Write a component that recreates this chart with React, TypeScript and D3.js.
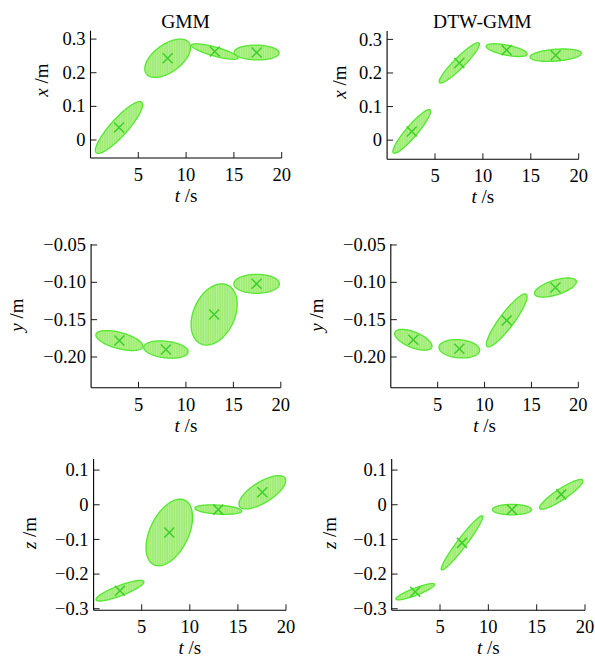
import * as d3 from "d3";
import { useEffect, useRef } from "react";

// each component: [t centre, value centre, half-width in t, half-height in value, correlation]
const gmmX = [
  [2.98, 0.037, 2.47, 0.077, 0.88],
  [8.07, 0.243, 2.39, 0.057, 0.55],
  [13.0, 0.263, 2.44, 0.023, -0.8],
  [17.38, 0.26, 2.35, 0.022, -0.05],
];
const dtwX = [
  [2.57, 0.026, 1.97, 0.065, 0.92],
  [7.54, 0.23, 2.1, 0.06, 0.93],
  [12.48, 0.268, 2.14, 0.019, -0.6],
  [17.6, 0.253, 2.68, 0.0185, 0.3],
];
const gmmY = [
  [2.98, -0.178, 2.47, 0.0134, -0.55],
  [7.89, -0.19, 2.34, 0.0116, -0.25],
  [12.97, -0.143, 2.43, 0.041, 0.33],
  [17.45, -0.102, 2.4, 0.0127, 0],
];
const dtwY = [
  [2.4, -0.177, 1.99, 0.0139, -0.6],
  [7.31, -0.189, 2.17, 0.0123, -0.15],
  [12.37, -0.151, 2.17, 0.0354, 0.9],
  [17.56, -0.107, 2.24, 0.0128, 0.6],
];
const gmmZ = [
  [2.74, -0.248, 2.49, 0.0297, 0.85],
  [7.87, -0.08, 2.42, 0.096, 0.46],
  [12.96, -0.014, 2.43, 0.0136, -0.3],
  [17.54, 0.036, 2.43, 0.048, 0.7],
];
const dtwZ = [
  [2.44, -0.251, 2.0, 0.0236, 0.88],
  [7.27, -0.11, 2.14, 0.078, 0.96],
  [12.44, -0.014, 2.02, 0.015, 0],
  [17.54, 0.03, 2.24, 0.043, 0.9],
];

const timeTicks = [5, 10, 15, 20];
const xTicks = [0, 0.1, 0.2, 0.3];
const xTickLabels = ["0", "0.1", "0.2", "0.3"];
const yTicks = [-0.05, -0.1, -0.15, -0.2];
const yTickLabels = ["\u22120.05", "\u22120.10", "\u22120.15", "\u22120.20"];
const zTicks = [0.1, 0, -0.1, -0.2, -0.3];
const zTickLabels = ["0.1", "0", "\u22120.1", "\u22120.2", "\u22120.3"];
const titles = ["GMM", "DTW-GMM"];

const W = 595;
const H = 662;
const FONT = "'Liberation Serif', 'DejaVu Serif', serif";
const STROKE = "#52e82e";
const MARK = "#3cd028";

// pixel boxes of each panel: [left, right, top, bottom], value domain
const panels = [
  { data: gmmX, box: [90.5, 281.7, 30.7, 158], dom: [-0.0536, 0.325], ticks: xTicks, labels: xTickLabels, v: "x", labX: 42, labY: 80, title: titles[0] },
  { data: dtwX, box: [387.1, 578.7, 31, 159.3], dom: [-0.057, 0.325], ticks: xTicks, labels: xTickLabels, v: "x", labX: 340, labY: 82, title: titles[1] },
  { data: gmmY, box: [91.1, 280.8, 244, 387.7], dom: [-0.2411, -0.0487], ticks: yTicks, labels: yTickLabels, v: "y", labX: 17, labY: 315 },
  { data: dtwY, box: [390.8, 578.3, 244, 387.7], dom: [-0.2411, -0.0487], ticks: yTicks, labels: yTickLabels, v: "y", labX: 317, labY: 315 },
  { data: gmmZ, box: [93.6, 286, 459, 610.3], dom: [-0.3045, 0.132], ticks: zTicks, labels: zTickLabels, v: "z", labX: 30, labY: 533 },
  { data: dtwZ, box: [391.7, 585, 459, 610.3], dom: [-0.3045, 0.132], ticks: zTicks, labels: zTickLabels, v: "z", labX: 330, labY: 533 },
];

const App = () => {
  const ref = useRef<SVGSVGElement>(null);

  useEffect(() => {
    const svg = d3.select(ref.current);
    svg.selectAll("*").remove();

    // light vertical hatching inside the ellipses
    const pat = svg.append("defs").append("pattern")
      .attr("id", "hatch")
      .attr("patternUnits", "userSpaceOnUse")
      .attr("width", 2.4)
      .attr("height", 10);
    pat.append("rect").attr("width", 2.4).attr("height", 10).attr("fill", "#9eec70");
    pat.append("line")
      .attr("x1", 0.6).attr("x2", 0.6).attr("y1", 0).attr("y2", 10)
      .attr("stroke", "#bdf3a0").attr("stroke-width", 0.8);

    const angles = d3.range(0, 2 * Math.PI, Math.PI / 60);

    panels.forEach(p => {
      const [l, r, t, b] = p.box;
      const x = d3.scaleLinear().domain([0, 20]).range([l, r]);
      const y = d3.scaleLinear().domain(p.dom).range([b, t]);
      const g = svg.append("g");

      // ellipses
      const line = d3.line<number[]>().x(d => x(d[0])).y(d => y(d[1])).curve(d3.curveLinearClosed);
      p.data.forEach(([ct, cv, dt, dv, rho]) => {
        const pts = angles.map(a => [
          ct + dt * Math.cos(a),
          cv + dv * (rho * Math.cos(a) + Math.sqrt(1 - rho * rho) * Math.sin(a)),
        ]);
        g.append("path")
          .attr("d", line(pts))
          .attr("fill", "url(#hatch)")
          .attr("stroke", STROKE)
          .attr("stroke-width", 1.3);
      });

      // centre markers
      p.data.forEach(([ct, cv]) => {
        const cx = x(ct), cy = y(cv), s = 5;
        g.append("path")
          .attr("d", `M${cx - s},${cy - s}L${cx + s},${cy + s}M${cx - s},${cy + s}L${cx + s},${cy - s}`)
          .attr("stroke", MARK)
          .attr("stroke-width", 1.5);
      });

      // axes
      g.append("line").attr("x1", l).attr("x2", r).attr("y1", b).attr("y2", b)
        .attr("stroke", "#000").attr("stroke-width", 1.1);
      g.append("line").attr("x1", l).attr("x2", l).attr("y1", t).attr("y2", b)
        .attr("stroke", "#000").attr("stroke-width", 1.1);

      timeTicks.forEach(tk => {
        g.append("line").attr("x1", x(tk)).attr("x2", x(tk)).attr("y1", b).attr("y2", b - 6)
          .attr("stroke", "#000").attr("stroke-width", 0.9);
        g.append("text").attr("x", x(tk)).attr("y", b + 23)
          .attr("text-anchor", "middle").attr("font-family", FONT).attr("font-size", 18.5)
          .text(tk);
      });

      p.ticks.forEach((tk, i) => {
        g.append("line").attr("x1", l).attr("x2", l + 6).attr("y1", y(tk)).attr("y2", y(tk))
          .attr("stroke", "#000").attr("stroke-width", 0.9);
        g.append("text").attr("x", l - 5).attr("y", y(tk)).attr("dy", "0.33em")
          .attr("text-anchor", "end").attr("font-family", FONT).attr("font-size", 18.5)
          .text(p.labels[i]);
      });

      // axis labels
      const xl = g.append("text").attr("x", (l + r) / 2).attr("y", b + 44)
        .attr("text-anchor", "middle").attr("font-family", FONT).attr("font-size", 19);
      xl.append("tspan").attr("font-style", "italic").text("t");
      xl.append("tspan").text(" /s");

      const yl = g.append("text")
        .attr("transform", `translate(${p.labX},${p.labY}) rotate(-90)`)
        .attr("text-anchor", "middle").attr("dy", "0.33em")
        .attr("font-family", FONT).attr("font-size", 19);
      yl.append("tspan").attr("font-style", "italic").text(p.v);
      yl.append("tspan").text(" /m");

      if (p.title) {
        g.append("text").attr("x", (l + r) / 2 - 0.5).attr("y", 28)
          .attr("text-anchor", "middle").attr("font-family", FONT).attr("font-size", 19.5)
          .text(p.title);
      }
    });
  });

  return (
    <svg ref={ref} width={W} height={H}
      style={{ position: "absolute", left: 0, top: 0, background: "#fff" }} />
  );
};

export default App;
